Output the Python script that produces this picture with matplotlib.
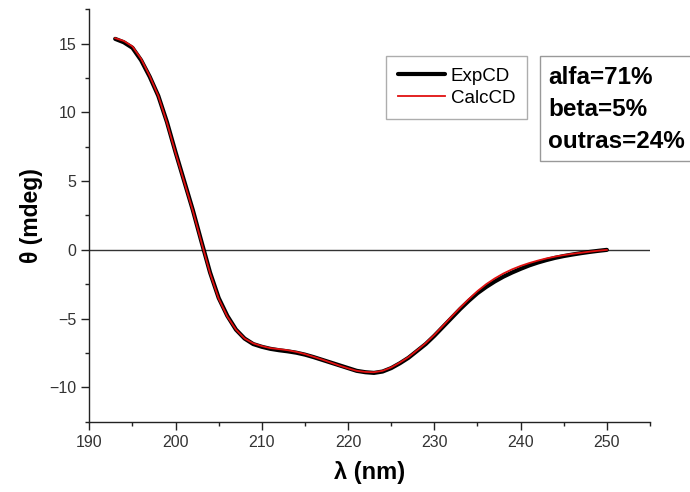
import matplotlib
matplotlib.use("Agg")
import matplotlib.pyplot as plt
from matplotlib.patches import Rectangle
from matplotlib.ticker import MultipleLocator

plt.rcParams['font.family'] = ['Liberation Sans', 'DejaVu Sans']

wavelength = [193, 194, 195, 196, 197, 198, 199, 200, 201, 202, 203, 204, 205, 206,
              207, 208, 209, 210, 211, 212, 213, 214, 215, 216, 217, 218, 219, 220,
              221, 222, 223, 224, 225, 226, 227, 228, 229, 230, 231, 232, 233, 234,
              235, 236, 237, 238, 239, 240, 241, 242, 243, 244, 245, 246, 247, 248,
              249, 250]
exp_cd = [15.35, 15.1, 14.7, 13.8, 12.6, 11.2, 9.3, 7.1, 5.0, 2.9, 0.6, -1.65, -3.5, -4.8,
          -5.8, -6.45, -6.85, -7.05, -7.2, -7.3, -7.38, -7.48, -7.62, -7.8, -8.0, -8.2,
          -8.4, -8.6, -8.8, -8.9, -8.95, -8.85, -8.6, -8.25, -7.85, -7.35, -6.85, -6.25,
          -5.6, -4.95, -4.3, -3.7, -3.15, -2.7, -2.3, -1.95, -1.65, -1.38, -1.13, -0.92,
          -0.74, -0.58, -0.45, -0.34, -0.24, -0.15, -0.07, 0.0]
calc_cd = [15.4, 15.2, 14.8, 13.9, 12.65, 11.2, 9.25, 7.05, 4.95, 2.85, 0.55, -1.7, -3.55, -4.85,
           -5.8, -6.45, -6.8, -7.0, -7.15, -7.22, -7.3, -7.42, -7.58, -7.78, -7.98, -8.2,
           -8.42, -8.62, -8.8, -8.88, -8.9, -8.8, -8.55, -8.2, -7.8, -7.3, -6.78, -6.18,
           -5.52, -4.85, -4.2, -3.58, -3.0, -2.5, -2.08, -1.72, -1.42, -1.17, -0.96, -0.78,
           -0.62, -0.49, -0.38, -0.29, -0.21, -0.13, -0.06, 0.0]

stats = ["alfa=71%", "beta=5%", "outras=24%"]

W, H = 690, 492
fig = plt.figure(figsize=(W / 100, H / 100), dpi=100)
ax = fig.add_axes([89.3 / W, 1 - 421.7 / H, (650 - 89.3) / W, (421.7 - 9.3) / H])

ax.axhline(0, color='#333333', lw=1.0, zorder=1)
ax.plot(wavelength, exp_cd, color='black', lw=3.0, label='ExpCD', zorder=2,
        solid_capstyle='round')
ax.plot(wavelength, calc_cd, color='#e01010', lw=1.3, label='CalcCD', zorder=3)

ax.set_xlim(190, 255)
ax.set_ylim(-12.5, 17.5)
ax.xaxis.set_minor_locator(MultipleLocator(5))
ax.yaxis.set_minor_locator(MultipleLocator(2.5))
ax.set_xticks([190, 200, 210, 220, 230, 240, 250])
ax.set_yticks([-10, -5, 0, 5, 10, 15])

for s in ['top', 'right']:
    ax.spines[s].set_visible(False)
for s in ['left', 'bottom']:
    ax.spines[s].set_linewidth(1.0)
    ax.spines[s].set_color('#222222')
ax.tick_params(which='major', direction='out', length=5.5, width=1.0, labelsize=11.5,
               colors='#222222', labelcolor='#333333', pad=4)
ax.tick_params(which='minor', direction='out', length=3.2, width=1.0, colors='#222222')
ax.set_xlim(190, 255)

ax.set_xlabel('λ (nm)', fontsize=17, fontweight='bold', labelpad=8)
ax.set_ylabel('θ (mdeg)', fontsize=16.5, fontweight='bold', labelpad=4)

leg = ax.legend(loc='upper left', bbox_to_anchor=(385.7 / W, 1 - 55.7 / H),
                bbox_transform=fig.transFigure, fontsize=13.5, frameon=True,
                fancybox=False, edgecolor='#999999', handlelength=2.5,
                borderpad=0.65, labelspacing=0.25, handletextpad=0.32,
                borderaxespad=0)
leg.get_frame().set_linewidth(1.0)

fig.patches.append(Rectangle((539.7 / W, 1 - 160.7 / H), (700 - 539.7) / W,
                             (160.7 - 55.7) / H, transform=fig.transFigure,
                             facecolor='white', edgecolor='#999999', lw=1.0))
ys = [78, 110, 141.5]
for t, y in zip(stats, ys):
    fig.text(548 / W, 1 - y / H, t, fontsize=17.5, fontweight='bold',
             va='center', ha='left', color='black')

fig.savefig('out.png', dpi=100)
